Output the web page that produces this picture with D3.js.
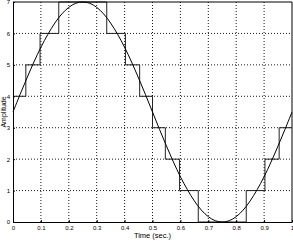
<!DOCTYPE html>
<html><head><meta charset="utf-8">
<script src="https://cdn.jsdelivr.net/npm/d3@7"></script>
<style>body{margin:0;background:#fff}svg{display:block}text{font-family:"Liberation Sans",Arial,sans-serif;fill:#000}</style>
</head><body><svg id="c" width="293" height="241"></svg>
<script>
// Sine curve (time in seconds, amplitude)
const curveT = [0,0.025,0.05,0.075,0.1,0.125,0.15,0.175,0.2,0.225,0.25,0.275,0.3,0.325,0.35,0.375,0.4,0.425,0.45,0.475,0.5,0.525,0.55,0.575,0.6,0.625,0.65,0.675,0.7,0.725,0.75,0.775,0.8,0.825,0.85,0.875,0.9,0.925,0.95,0.975,1];
const curveA = [3.5,4.05,4.58,5.09,5.56,5.97,6.33,6.62,6.83,6.96,7.0,6.96,6.83,6.62,6.33,5.97,5.56,5.09,4.58,4.05,3.5,2.95,2.42,1.91,1.44,1.03,0.67,0.38,0.17,0.04,0.0,0.04,0.17,0.38,0.67,1.03,1.44,1.91,2.42,2.95,3.5];
// Quantized staircase: step start times and levels
const stepT = [0,0.046,0.097,0.164,0.336,0.403,0.454,0.5,0.546,0.597,0.664,0.836,0.903,0.954,1];
const stepA = [4,5,6,7,6,5,4,3,2,1,0,1,2,3,3];
const xTicks = [0,0.1,0.2,0.3,0.4,0.5,0.6,0.7,0.8,0.9,1];
const xTickLabels = ["0","0.1","0.2","0.3","0.4","0.5","0.6","0.7","0.8","0.9","1"];
const yTicks = [0,1,2,3,4,5,6,7];
const yTickLabels = ["0","1","2","3","4","5","6","7"];

const svg = d3.select("#c");
const L=13, R=292, T=2, B=222;
const x = d3.scaleLinear().domain([0,1]).range([L,R]);
const y = d3.scaleLinear().domain([0,7]).range([B,T]);

// grid
const g = svg.append("g");
g.selectAll(".vg").data(xTicks.slice(1,-1)).enter().append("line")
 .attr("x1",d=>x(d)).attr("x2",d=>x(d)).attr("y1",T).attr("y2",B)
 .attr("stroke","#000").attr("stroke-width",0.9).attr("stroke-dasharray","1,2");
g.selectAll(".hg").data(yTicks.slice(1,-1)).enter().append("line")
 .attr("y1",d=>y(d)).attr("y2",d=>y(d)).attr("x1",L).attr("x2",R)
 .attr("stroke","#000").attr("stroke-width",0.9).attr("stroke-dasharray","1,2");

// staircase
svg.append("path").datum(stepT.map((t,i)=>[t,stepA[i]]))
 .attr("d",d3.line().x(d=>x(d[0])).y(d=>y(d[1])).curve(d3.curveStepAfter))
 .attr("fill","none").attr("stroke","#222").attr("stroke-width",1);

// sine
svg.append("path").datum(curveT.map((t,i)=>[t,curveA[i]]))
 .attr("d",d3.line().x(d=>x(d[0])).y(d=>y(d[1])).curve(d3.curveCatmullRom))
 .attr("fill","none").attr("stroke","#000").attr("stroke-width",1);

// axes
const xa = svg.append("g").attr("transform",`translate(0,${B})`)
 .call(d3.axisBottom(x).tickValues(xTicks).tickFormat((d,i)=>xTickLabels[i]).tickSizeInner(-2).tickSizeOuter(0).tickPadding(4));
const ya = svg.append("g").attr("transform",`translate(${L},0)`)
 .call(d3.axisLeft(y).tickValues(yTicks).tickFormat((d,i)=>yTickLabels[i]).tickSizeInner(-2).tickSizeOuter(0).tickPadding(3));
[xa,ya].forEach(a=>{a.selectAll("text").attr("font-size",6).attr("font-family","Liberation Sans,Arial,sans-serif");
 a.select(".domain").attr("stroke","#000");});
// top/right axes box
svg.append("line").attr("x1",L).attr("x2",R).attr("y1",T).attr("y2",T).attr("stroke","#000");
svg.append("line").attr("x1",R).attr("x2",R).attr("y1",T).attr("y2",B).attr("stroke","#000");

svg.append("text").attr("x",(L+R)/2).attr("y",238).attr("text-anchor","middle").attr("font-size",7.5).text("Time (sec.)");
svg.append("text").attr("transform",`translate(5.5,${(T+B)/2}) rotate(-90)`).attr("text-anchor","middle").attr("font-size",7).text("Amplitude");
</script></body></html>
